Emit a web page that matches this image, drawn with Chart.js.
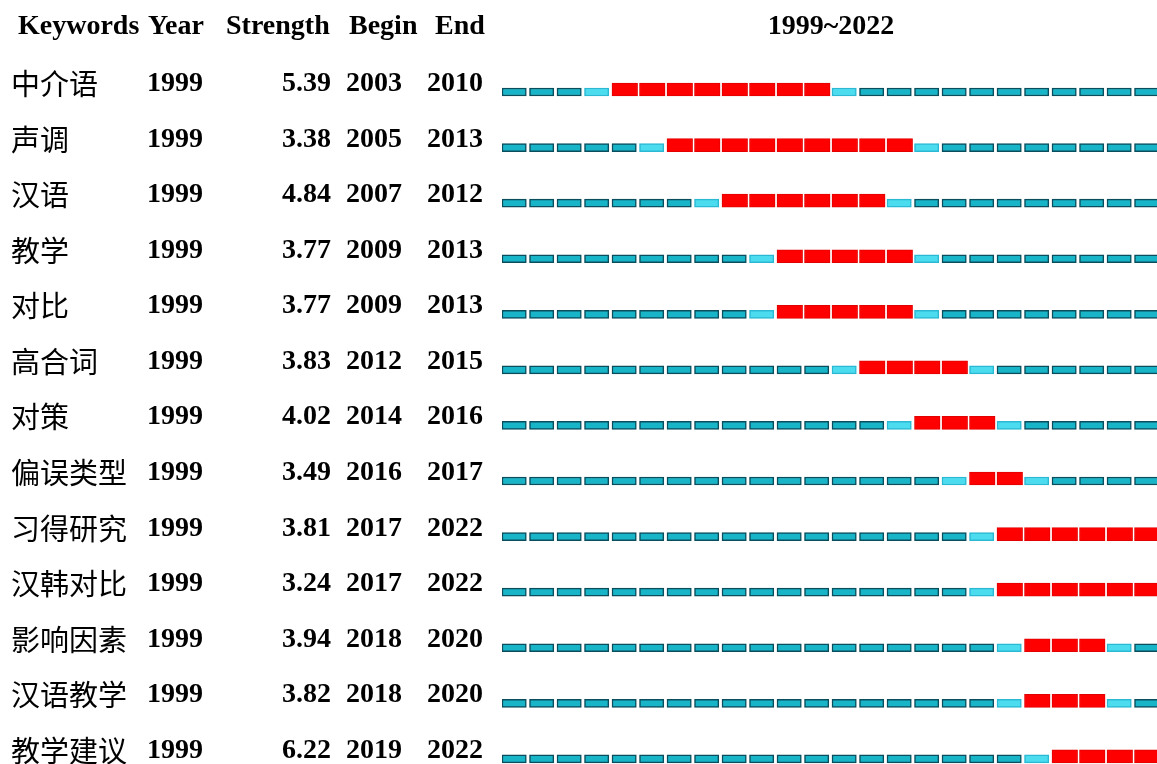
<!DOCTYPE html>
<html>
<head>
<meta charset="utf-8">
<script src="https://cdn.jsdelivr.net/npm/chart.js@4.4.1/dist/chart.umd.min.js"></script>
<style>
    html, body { margin: 0; padding: 0; background: #fff; overflow: hidden; }
    #wrap { position: relative; width: 1157px; height: 764px; overflow: hidden; }
    #chart { position: absolute; left: 0; top: 0; }
    .t {
        position: absolute;
        font-family: "Liberation Serif", "Times New Roman", serif;
        font-weight: bold;
        font-size: 28px;
        line-height: 1;
        white-space: nowrap;
        color: #000;
        transform: translateY(-50%);
    }
    .kw { font-family: "Noto Sans CJK SC", sans-serif; font-weight: normal; font-size: 29px; }
</style>
</head>
<body>
<div id="wrap">
    <canvas id="chart" width="1162" height="800"></canvas>
</div>
<script>
const keywords = ['中介语', '声调', '汉语', '教学', '对比', '高合词', '对策', '偏误类型', '习得研究', '汉韩对比', '影响因素', '汉语教学', '教学建议'];
const years = [1999, 1999, 1999, 1999, 1999, 1999, 1999, 1999, 1999, 1999, 1999, 1999, 1999];
const strengths = ['5.39', '3.38', '4.84', '3.77', '3.77', '3.83', '4.02', '3.49', '3.81', '3.24', '3.94', '3.82', '6.22'];
const begins = [2003, 2005, 2007, 2009, 2009, 2012, 2014, 2016, 2017, 2017, 2018, 2018, 2019];
const ends = [2010, 2013, 2012, 2013, 2013, 2015, 2016, 2017, 2022, 2022, 2020, 2020, 2022];
const firstYear = 1999;
const lastYear = 2022;

// text columns (html, so it stays real text)
const wrap = document.getElementById('wrap');
const ROW_TOP = 82, ROW_STEP = 55.58;

function addText(txt, y, opts) {
    const d = document.createElement('div');
    d.className = 't' + (opts.cls ? ' ' + opts.cls : '');
    d.textContent = txt;
    d.style.top = y + 'px';
    if (opts.left != null) d.style.left = opts.left + 'px';
    if (opts.right != null) d.style.right = (1157 - opts.right) + 'px';
    if (opts.center != null) { d.style.left = opts.center + 'px'; d.style.transform = 'translate(-50%,-50%)'; }
    wrap.appendChild(d);
}

addText('Keywords', 25, { left: 18 });
addText('Year', 25, { left: 148 });
addText('Strength', 25, { left: 226 });
addText('Begin', 25, { left: 349 });
addText('End', 25, { left: 435 });
addText(firstYear + '~' + lastYear, 25, { center: 831 });

keywords.forEach((k, i) => {
    const y = ROW_TOP + i * ROW_STEP;
    addText(k, y, { left: 11, cls: 'kw' });
    addText(String(years[i]), y, { left: 147 });
    addText(strengths[i], y, { right: 331 });
    addText(String(begins[i]), y, { left: 346 });
    addText(String(ends[i]), y, { right: 483 });
});

// one segment per year per keyword
const burstSegs = [];
const plainSegs = [];
keywords.forEach((k, i) => {
    for (let yr = firstYear; yr <= lastYear; yr++) {
        if (yr >= begins[i] && yr <= ends[i]) {
            burstSegs.push({ x: [yr, yr + 0.93], y: i });
        } else {
            const edge = yr === begins[i] - 1 || yr === ends[i] + 1;
            plainSegs.push({ x: [yr, yr + 0.885], y: i + 0.045, edge: edge });
        }
    }
});

new Chart(document.getElementById('chart'), {
    type: 'bar',
    data: {
        datasets: [
            {
                label: 'plain',
                data: plainSegs,
                backgroundColor: ctx => (ctx.raw && ctx.raw.edge) ? '#4cdcf0' : '#18b4c7',
                borderColor: ctx => (ctx.raw && ctx.raw.edge) ? '#2bb8d2' : '#0a4d5c',
                borderWidth: 1.5,
                borderSkipped: false,
                barThickness: 8,
                grouped: false
            },
            {
                label: 'burst',
                data: burstSegs,
                backgroundColor: '#ff0000',
                borderColor: '#e20000',
                borderWidth: 1,
                borderSkipped: false,
                barThickness: 13,
                grouped: false
            }
        ]
    },
    options: {
        indexAxis: 'y',
        responsive: false,
        animation: false,
        layout: { padding: { left: 502, right: 0, top: 61.7, bottom: 15.8 } },
        scales: {
            x: { type: 'linear', min: firstYear, max: lastYear + 1, offset: false, display: false },
            y: { type: 'linear', min: -0.5, max: keywords.length - 0.5, reverse: true, offset: false, display: false }
        },
        plugins: {
            legend: { display: false },
            tooltip: { enabled: false }
        }
    }
});
</script>
</body>
</html>
